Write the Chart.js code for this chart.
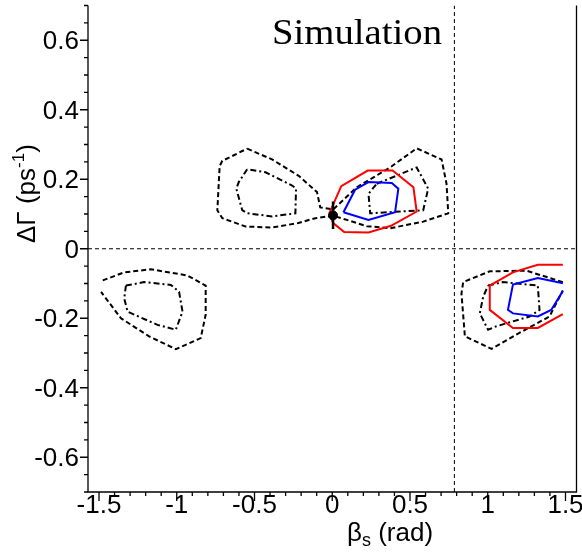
<!DOCTYPE html>
<html>
<head>
<meta charset="utf-8">
<script src="https://cdn.jsdelivr.net/npm/chart.js@4"></script>
<style>
  html, body { margin: 0; padding: 0; background: #fff; }
</style>
</head>
<body>
<canvas id="chart" width="582" height="558"></canvas>
<script>
const HALF_PI = Math.PI / 2;

// tick labels
const xTicks = [-1.5, -1, -0.5, 0, 0.5, 1, 1.5];
const xTickLabels = ["-1.5", "-1", "-0.5", "0", "0.5", "1", "1.5"];
const yTicks = [-0.6, -0.4, -0.2, 0, 0.2, 0.4, 0.6];
const yTickLabels = ["-0.6", "-0.4", "-0.2", "0", "0.2", "0.4", "0.6"];

// contours, [beta_s, dGamma]
const outerCentral = [[-0.547,0.288],[-0.387,0.257],[-0.216,0.210],[-0.098,0.163],[-0.077,0.119],[0.006,0.113],
  [0.158,0.177],[0.372,0.234],[0.543,0.289],[0.703,0.257],[0.735,0.187],[0.746,0.102],[0.585,0.078],
  [0.372,0.059],[0.222,0.065],[0.094,0.083],[0.006,0.095],[-0.109,0.088],[-0.218,0.074],[-0.387,0.061],
  [-0.558,0.064],[-0.707,0.088],[-0.739,0.111],[-0.724,0.238],[-0.707,0.253],[-0.547,0.288]];
const innerLeft = [[-0.547,0.229],[-0.601,0.192],[-0.617,0.173],[-0.579,0.111],[-0.547,0.102],[-0.387,0.093],
  [-0.237,0.102],[-0.233,0.173],[-0.258,0.182],[-0.429,0.220],[-0.547,0.229]];
const innerMid = [[0.286,0.187],[0.543,0.234],[0.617,0.173],[0.585,0.111],[0.244,0.102],[0.233,0.158],[0.286,0.187]];
const redMid = [[-0.019,0.102],[0.058,0.180],[0.228,0.225],[0.388,0.225],[0.522,0.177],[0.543,0.107],
  [0.378,0.066],[0.233,0.047],[0.077,0.048],[0.006,0.074],[-0.019,0.102]];
const blueMid = [[0.072,0.105],[0.147,0.170],[0.233,0.192],[0.383,0.189],[0.425,0.173],[0.404,0.105],
  [0.233,0.083],[0.072,0.105]];

const outerRight = [[1.483,-0.096],[1.248,-0.063],[1.013,-0.065],[0.842,-0.096],[0.831,-0.129],[0.853,-0.252],
  [1.024,-0.288],[1.184,-0.247],[1.397,-0.195],[1.483,-0.120]];
const innerRight = [[1.002,-0.106],[1.098,-0.096],[1.322,-0.106],[1.333,-0.176],[1.269,-0.195],[1.056,-0.223],
  [1.002,-0.233],[0.949,-0.186],[0.970,-0.139],[1.002,-0.106]];
const redRight = [[1.483,-0.046],[1.322,-0.046],[1.162,-0.068],[1.013,-0.106],[1.013,-0.176],[1.162,-0.228],
  [1.322,-0.228],[1.483,-0.188]];
const blueRight = [[1.483,-0.099],[1.322,-0.084],[1.162,-0.103],[1.130,-0.176],[1.162,-0.186],[1.322,-0.195],
  [1.408,-0.176],[1.483,-0.122]];

const outerLeft = [[-1.476,-0.091],[-1.338,-0.068],[-1.167,-0.059],[-0.931,-0.077],[-0.814,-0.106],[-0.814,-0.190],
  [-0.846,-0.257],[-1.006,-0.289],[-1.178,-0.252],[-1.359,-0.200],[-1.487,-0.124]];
const innerFarLeft = [[-1.327,-0.106],[-1.210,-0.096],[-1.038,-0.104],[-0.985,-0.124],[-0.963,-0.181],
  [-1.006,-0.233],[-1.124,-0.219],[-1.316,-0.181],[-1.338,-0.143],[-1.327,-0.106]];

// generated point with its error bar
const simPoint = [[0.005, 0.096]];
const simErr = [[0.005, 0.057], [0.005, 0.136]];

// reference lines
const zeroLine = [[-HALF_PI, 0], [HALF_PI, 0]];
const quarterPiLine = [[Math.PI / 4, -0.7], [Math.PI / 4, 0.7]];

const DASH = [5, 3];
const DASHDOT = [6, 3, 2, 3];

const toPts = arr => arr.map(p => ({ x: p[0], y: p[1] }));
function curve(data, color, dash, width, order) {
  return {
    data: toPts(data), showLine: true, borderColor: color, borderWidth: width,
    borderDash: dash, pointRadius: 0, fill: false, tension: 0, order: order
  };
}

const axesPlugin = {
  id: "axes",
  afterDraw(chart) {
    const { ctx, chartArea: a, scales: { x, y } } = chart;
    ctx.save();
    ctx.strokeStyle = "#000";
    ctx.fillStyle = "#000";
    ctx.lineWidth = 1.3;
    // frame
    ctx.beginPath();
    ctx.moveTo(a.left, a.top);
    ctx.lineTo(a.left, a.bottom);
    ctx.lineTo(a.right, a.bottom);
    ctx.lineTo(a.right, a.top);
    ctx.stroke();

    // y ticks
    ctx.beginPath();
    for (let i = -14; i <= 14; i++) {
      const py = y.getPixelForValue(i * 0.05);
      const len = i % 4 === 0 ? 8 : 4;
      ctx.moveTo(a.left - len, py);
      ctx.lineTo(a.left, py);
    }
    // x ticks
    for (let i = -15; i <= 15; i++) {
      const px = x.getPixelForValue(i * 0.1);
      const len = i % 5 === 0 ? 9 : 4;
      ctx.moveTo(px, a.bottom);
      ctx.lineTo(px, a.bottom + len);
    }
    ctx.stroke();

    ctx.font = '26px "Liberation Sans"';
    ctx.textAlign = "right";
    yTicks.forEach((v, i) => ctx.fillText(yTickLabels[i], a.left - 9, y.getPixelForValue(v) + 9));
    ctx.textAlign = "center";
    xTicks.forEach((v, i) => ctx.fillText(xTickLabels[i], x.getPixelForValue(v), a.bottom + 21));

    // x title
    ctx.textAlign = "left";
    let tx = 347;
    ctx.fillText("\u03b2", tx, 541);
    tx += ctx.measureText("\u03b2").width;
    ctx.font = '18px "Liberation Sans"';
    ctx.fillText("s", tx, 546);
    tx += ctx.measureText("s").width;
    ctx.font = '26px "Liberation Sans"';
    ctx.fillText(" (rad)", tx, 541);

    // y title
    ctx.save();
    ctx.translate(35, 243);
    ctx.rotate(-Math.PI / 2);
    let ty = 0;
    ctx.fillText("\u0394\u0393 (ps", ty, 0);
    ty += ctx.measureText("\u0394\u0393 (ps").width;
    ctx.font = '17px "Liberation Sans"';
    ctx.fillText("-1", ty, -11);
    ty += ctx.measureText("-1").width;
    ctx.font = '26px "Liberation Sans"';
    ctx.fillText(")", ty, 0);
    ctx.restore();

    // label
    ctx.font = '35px "Liberation Serif"';
    const w = ctx.measureText("Simulation").width;
    ctx.translate(272, 44);
    ctx.scale(170 / w, 1);
    ctx.fillText("Simulation", 0, 0);
    ctx.restore();
  }
};

new Chart(document.getElementById("chart").getContext("2d"), {
  type: "scatter",
  data: {
    datasets: [
      curve(zeroLine, "#000", [4, 3], 1, 20),
      curve(quarterPiLine, "#000", [4, 3], 1, 20),
      curve(outerCentral, "#000", DASH, 2, 10),
      curve(outerRight, "#000", DASH, 2, 10),
      curve(outerLeft, "#000", DASH, 2, 10),
      curve(innerLeft, "#000", DASHDOT, 2, 9),
      curve(innerMid, "#000", DASHDOT, 2, 9),
      curve(innerRight, "#000", DASHDOT, 2, 9),
      curve(innerFarLeft, "#000", DASHDOT, 2, 9),
      curve(redMid, "#ff0000", [], 2, 5),
      curve(redRight, "#ff0000", [], 2, 5),
      curve(blueMid, "#0000ff", [], 2, 4),
      curve(blueRight, "#0000ff", [], 2, 4),
      curve(simErr, "#000", [], 2.5, 1),
      {
        data: toPts(simPoint), pointRadius: 4.5, pointBackgroundColor: "#000",
        pointBorderColor: "#000", order: 0
      }
    ]
  },
  options: {
    responsive: false,
    animation: false,
    devicePixelRatio: 1,
    layout: { padding: { left: 88, right: 5, top: 0, bottom: 66 } },
    plugins: { legend: { display: false }, tooltip: { enabled: false } },
    scales: {
      x: { type: "linear", min: -HALF_PI, max: HALF_PI, display: false },
      y: { type: "linear", min: -0.7, max: 0.7, display: false }
    }
  },
  plugins: [axesPlugin]
});
</script>
</body>
</html>
